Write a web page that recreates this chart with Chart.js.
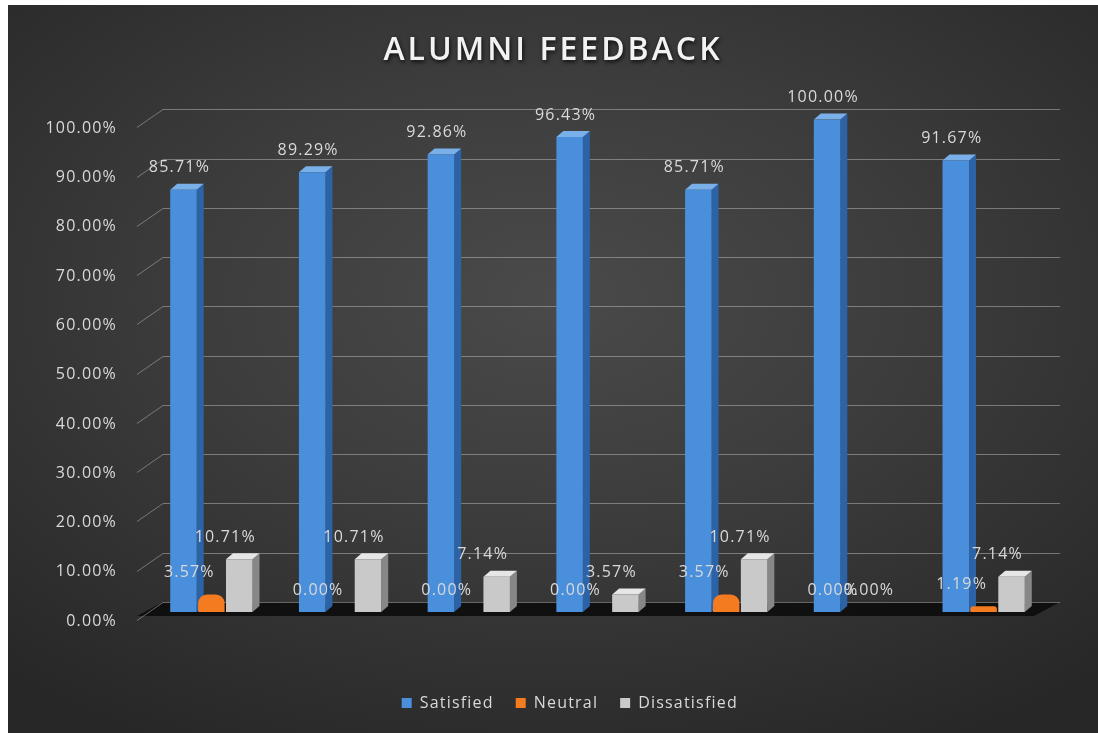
<!DOCTYPE html>
<html><head><meta charset="utf-8">
<script src="https://cdn.jsdelivr.net/npm/chart.js@4.4.1/dist/chart.umd.min.js"></script>
<style>
html,body{margin:0;padding:0;background:#fff;width:1098px;height:733px;overflow:hidden}
#wrap{position:absolute;left:8px;top:5px;width:1090px;height:728px;
 background:radial-gradient(ellipse 75% 70% at 50% 40%, #4a4a4a 0%, #3c3c3c 45%, #272727 100%);}
canvas{display:block}
</style></head><body>
<div id="wrap"><canvas id="c" width="1090" height="728"></canvas></div>
<script>
const chartTitle = 'ALUMNI FEEDBACK';
const categories = ['1', '2', '3', '4', '5', '6', '7'];
const seriesNames = ['Satisfied', 'Neutral', 'Dissatisfied'];
const satisfied = [85.71, 89.29, 92.86, 96.43, 85.71, 100.00, 91.67];
const neutral = [3.57, 0.00, 0.00, 0.00, 3.57, 0.00, 1.19];
const dissatisfied = [10.71, 10.71, 7.14, 3.57, 10.71, 0.00, 7.14];
const yTickValues = [0, 10, 20, 30, 40, 50, 60, 70, 80, 90, 100];

const frontColors = ['#4a8fdc', '#f47b20', '#c9c9c9'];
const faceColors = [
  {side: '#2c62a6', top: '#7ab0ea'},
  null,
  {side: '#878787', top: '#e6e6e6'}
];
const labelDx = [-4, -22, -14];
const DEPTH = {dx: 7, dy: 6};
const textColor = '#d9d9d9';
const FONT = "'Open Sans', 'DejaVu Sans', sans-serif";

const wallPlugin = {
  id: 'wall3d',
  beforeDraw(chart) {
    chart.ctx.letterSpacing = '1.2px';
    const tb = chart.titleBlock;
    if (tb && !tb._patched) {
      const orig = tb.draw.bind(tb);
      tb.draw = function () {
        const c = chart.ctx;
        c.save();
        c.letterSpacing = '3px';
        c.shadowColor = 'rgba(0,0,0,0.8)';
        c.shadowBlur = 4; c.shadowOffsetX = 1; c.shadowOffsetY = 2;
        orig();
        c.restore();
      };
      tb._patched = true;
    }
  },
  afterDraw(chart) {
    chart.ctx.letterSpacing = '0px';
  },
  beforeDatasetsDraw(chart) {
    const {ctx, chartArea: {left, right}, scales: {y}} = chart;
    ctx.save();
    const base = y.getPixelForValue(0);
    // floor
    ctx.fillStyle = 'rgba(12,12,12,0.9)';
    ctx.beginPath();
    ctx.moveTo(left - 10, base + 4);
    ctx.lineTo(left + 16, base - 10);
    ctx.lineTo(right + 12, base - 10);
    ctx.lineTo(right - 14, base + 4);
    ctx.closePath(); ctx.fill();
    // wall gridlines
    ctx.strokeStyle = 'rgba(190,190,190,0.5)';
    ctx.lineWidth = 1;
    y.ticks.forEach(t => {
      const p = Math.round(y.getPixelForValue(t.value)) + 0.5;
      ctx.beginPath();
      ctx.moveTo(left - 10, p + 8);
      ctx.lineTo(left + 16, p - 10);
      ctx.lineTo(right + 12, p - 10);
      ctx.stroke();
    });
    // side and top faces of bars
    chart.data.datasets.forEach((ds, di) => {
      if (!faceColors[di]) return;
      const meta = chart.getDatasetMeta(di);
      meta.data.forEach((el, i) => {
        if (!(ds.data[i] > 0)) return;
        const w = el.width, x0 = el.x - w / 2, x1 = el.x + w / 2, top = el.y, b = el.base;
        ctx.fillStyle = faceColors[di].side;
        ctx.beginPath();
        ctx.moveTo(x1, top); ctx.lineTo(x1 + DEPTH.dx, top - DEPTH.dy);
        ctx.lineTo(x1 + DEPTH.dx, b - DEPTH.dy); ctx.lineTo(x1, b);
        ctx.closePath(); ctx.fill();
        ctx.fillStyle = faceColors[di].top;
        ctx.beginPath();
        ctx.moveTo(x0, top); ctx.lineTo(x0 + DEPTH.dx, top - DEPTH.dy);
        ctx.lineTo(x1 + DEPTH.dx, top - DEPTH.dy); ctx.lineTo(x1, top);
        ctx.closePath(); ctx.fill();
      });
    });
    ctx.restore();
  },
  afterDatasetsDraw(chart) {
    const {ctx} = chart;
    ctx.save();
    ctx.font = `16px ${FONT}`;
    ctx.fillStyle = textColor;
    ctx.textAlign = 'center';
    ctx.textBaseline = 'middle';
    chart.data.datasets.forEach((ds, di) => {
      const meta = chart.getDatasetMeta(di);
      meta.data.forEach((el, i) => {
        const v = ds.data[i];
        ctx.fillText(v.toFixed(2) + '%', el.x + labelDx[di], el.y - 22);
      });
    });
    ctx.restore();
  }
};

new Chart(document.getElementById('c'), {
  type: 'bar',
  data: {
    labels: categories,
    datasets: [
      {label: seriesNames[0], data: satisfied, backgroundColor: frontColors[0]},
      {label: seriesNames[1], data: neutral, backgroundColor: frontColors[1],
       borderRadius: {topLeft: 12, topRight: 12, bottomLeft: 0, bottomRight: 0}, borderSkipped: 'bottom'},
      {label: seriesNames[2], data: dissatisfied, backgroundColor: frontColors[2]}
    ]
  },
  options: {
    responsive: false,
    animation: false,
    events: [],
    datasets: {bar: {categoryPercentage: 0.65, barPercentage: 0.95}},
    layout: {padding: {top: 0, right: 0, bottom: 12, left: 0}},
    plugins: {
      title: {
        display: true, text: chartTitle, color: '#f2f2f2',
        font: {family: FONT, size: 32, weight: '600'},
        padding: {top: 27, bottom: 49}
      },
      legend: {
        position: 'bottom',
        labels: {
          color: textColor, font: {family: FONT, size: 16},
          boxWidth: 10, boxHeight: 10, padding: 22
        }
      },
      tooltip: {enabled: false}
    },
    scales: {
      x: {
        grid: {display: false, drawTicks: false}, border: {display: false},
        ticks: {display: false},
        afterFit(scale) { scale.height = 61; }
      },
      y: {
        min: 0, max: 100,
        grid: {display: false, drawTicks: false}, border: {display: false},
        afterBuildTicks(scale) { scale.ticks = yTickValues.map(v => ({value: v})); },
        afterFit(scale) { scale.width = 139; },
        ticks: {
          color: textColor, font: {family: FONT, size: 16}, padding: 30, labelOffset: 9,
          callback: v => Number(v).toFixed(2) + '%'
        }
      },
      yRight: {
        type: 'linear', position: 'right', display: true,
        grid: {display: false, drawTicks: false}, border: {display: false},
        ticks: {display: false},
        afterFit(scale) { scale.width = 50; }
      }
    }
  },
  plugins: [wallPlugin]
});
</script>
</body></html>
